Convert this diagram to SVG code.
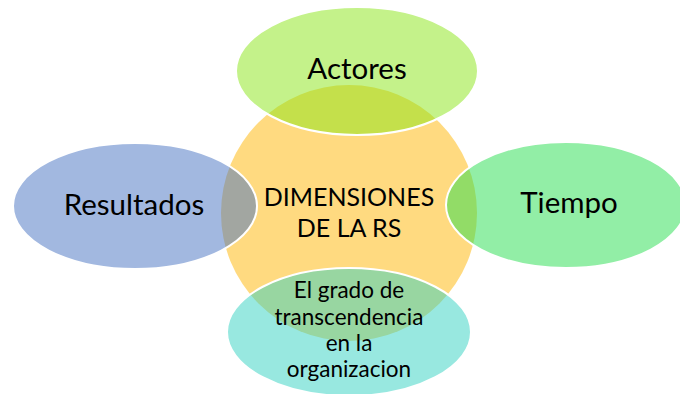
<svg xmlns="http://www.w3.org/2000/svg" width="680" height="394" viewBox="0 0 680 394">
  <style>
    .sat { fill-opacity: 0.5; stroke: #FFFFFF; stroke-width: 2; }
    .lbl { font-family: Lato, "Liberation Sans", sans-serif; fill: #000000; text-anchor: middle; }
  </style>
  <rect width="680" height="394" fill="#FFFFFF"/>
  <g id="center">
    <circle cx="349" cy="213" r="128" fill="#FFDA80"/>
  </g>
  <g id="actores">
    <ellipse class="sat" cx="357" cy="71" rx="121" ry="64" fill="#89E515"/>
  </g>
  <g id="resultados">
    <ellipse class="sat" cx="135" cy="206" rx="122" ry="63" fill="#4571C1"/>
  </g>
  <g id="tiempo">
    <ellipse class="sat" cx="566" cy="205" rx="120" ry="63" fill="#25DD4D"/>
  </g>
  <g id="grado">
    <ellipse class="sat" cx="349" cy="332" rx="122" ry="64" fill="#31D1C1"/>
  </g>
  <g id="labels">
    <text class="lbl" x="357" y="79" font-size="29.5">Actores</text>
    <text class="lbl" x="134" y="215" font-size="29.5">Resultados</text>
    <text class="lbl" x="569" y="213" font-size="29.5">Tiempo</text>
    <text class="lbl" x="349" y="206" font-size="25">DIMENSIONES</text>
    <text class="lbl" x="349" y="237" font-size="25">DE LA RS</text>
    <text class="lbl" x="349" y="298" font-size="22.5">El grado de</text>
    <text class="lbl" x="349" y="325" font-size="22.5">transcendencia</text>
    <text class="lbl" x="349" y="351" font-size="22.5">en la</text>
    <text class="lbl" x="349" y="377" font-size="22.5">organizacion</text>
  </g>
</svg>
